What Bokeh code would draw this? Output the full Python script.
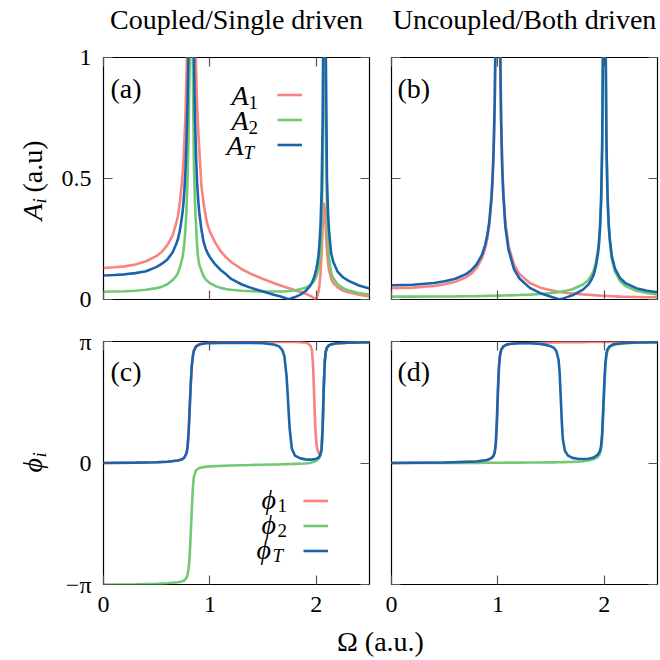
import math
from bokeh.plotting import figure
from bokeh.models import (Range1d, FixedTicker, LinearAxis, Label, Legend, LegendItem,
                          ColumnDataSource)
from bokeh.core.properties import value
from bokeh.layouts import column, row
from bokeh.embed import file_html
from bokeh.resources import INLINE

# ---------------- data ----------------
# Panel (a): coupled / single driven, amplitudes
omega_a = [0.0, 0.1, 0.2, 0.3, 0.4, 0.5, 0.55, 0.6, 0.65, 0.68, 0.7, 0.72, 0.74, 0.75, 0.76,
           0.77, 0.78, 0.79, 0.8, 0.81, 0.82, 0.83, 0.84, 0.85, 0.86, 0.87, 0.88, 0.89, 0.9,
           0.92, 0.94, 0.96, 0.98, 1.0, 1.05, 1.1, 1.15, 1.2, 1.3, 1.4, 1.5, 1.6, 1.65, 1.7,
           1.72, 1.74, 1.76, 1.8, 1.85, 1.9, 1.93, 1.95, 1.97, 1.98, 1.99, 2.0, 2.01, 2.02,
           2.03, 2.04, 2.05, 2.06, 2.07, 2.08, 2.09, 2.1, 2.11, 2.12, 2.14, 2.16, 2.2, 2.25,
           2.3, 2.4, 2.5]
A1_a = [0.130, 0.133, 0.137, 0.145, 0.158, 0.18, 0.198, 0.225, 0.265, 0.31, 0.345, 0.41, 0.50,
        0.56, 0.65, 0.76, 0.92, 1.15, 1.5, 1.9, 2.2, 2.2, 1.9, 1.5, 1.15, 0.95, 0.80, 0.70,
        0.62, 0.47, 0.40, 0.345, 0.305, 0.28, 0.235, 0.20, 0.175, 0.155, 0.125, 0.103, 0.085,
        0.068, 0.06, 0.053, 0.050, 0.047, 0.044, 0.038, 0.031, 0.024, 0.018, 0.014, 0.008,
        0.005, 0.002, 0.004, 0.015, 0.03, 0.06, 0.11, 0.19, 0.31, 0.40, 0.37, 0.28, 0.20,
        0.15, 0.12, 0.085, 0.068, 0.05, 0.037, 0.03, 0.02, 0.013]
A2_a = [0.032, 0.033, 0.034, 0.036, 0.04, 0.047, 0.053, 0.063, 0.08, 0.095, 0.11, 0.135, 0.17,
        0.195, 0.235, 0.29, 0.37, 0.50, 0.70, 1.0, 1.3, 1.3, 0.95, 0.55, 0.40, 0.30, 0.22,
        0.17, 0.145, 0.12, 0.097, 0.083, 0.075, 0.068, 0.056, 0.048, 0.043, 0.04, 0.036,
        0.034, 0.033, 0.033, 0.033, 0.033, 0.034, 0.035, 0.036, 0.038, 0.042, 0.049, 0.056,
        0.062, 0.072, 0.078, 0.086, 0.095, 0.108, 0.125, 0.155, 0.20, 0.30, 0.52, 1.0, 1.2,
        0.75, 0.38, 0.24, 0.17, 0.11, 0.088, 0.063, 0.047, 0.038, 0.027, 0.021]
AT_a = [0.099, 0.101, 0.104, 0.109, 0.117, 0.135, 0.148, 0.165, 0.195, 0.225, 0.25, 0.29, 0.35,
        0.39, 0.45, 0.53, 0.65, 0.82, 1.05, 1.4, 1.7, 1.7, 1.35, 1.0, 0.75, 0.59, 0.48, 0.41,
        0.36, 0.29, 0.24, 0.21, 0.19, 0.175, 0.145, 0.122, 0.105, 0.085, 0.062, 0.046, 0.033,
        0.02, 0.014, 0.007, 0.004, 0.001, 0.004, 0.010, 0.02, 0.035, 0.05, 0.062, 0.08,
        0.093, 0.108, 0.125, 0.15, 0.18, 0.23, 0.31, 0.45, 0.75, 1.4, 1.6, 1.0, 0.5, 0.36,
        0.28, 0.19, 0.155, 0.115, 0.092, 0.078, 0.058, 0.045]

# Panel (b): uncoupled / both driven, amplitudes
omega_b = [0.0, 0.2, 0.4, 0.5, 0.6, 0.7, 0.75, 0.8, 0.85, 0.88, 0.9, 0.92, 0.94, 0.95, 0.96,
           0.97, 0.98, 0.99, 1.0, 1.01, 1.02, 1.03, 1.04, 1.05, 1.07, 1.1, 1.15, 1.2, 1.3, 1.4,
           1.5, 1.55, 1.58, 1.6, 1.65, 1.7, 1.8, 1.85, 1.88, 1.9, 1.92, 1.94, 1.95, 1.96, 1.97,
           1.98, 1.99, 2.0, 2.01, 2.02, 2.03, 2.04, 2.05, 2.07, 2.1, 2.15, 2.2, 2.3, 2.4, 2.5]
A1_b = [0.047, 0.049, 0.056, 0.063, 0.073, 0.092, 0.107, 0.131, 0.17, 0.21, 0.25, 0.31, 0.41,
        0.49, 0.61, 0.80, 1.15, 1.9, 2.4, 1.9, 1.12, 0.76, 0.57, 0.455, 0.32, 0.222, 0.145,
        0.106, 0.068, 0.049, 0.038, 0.034, 0.031, 0.030, 0.027, 0.025, 0.021, 0.0195, 0.0185,
        0.018, 0.0172, 0.0166, 0.0163, 0.016, 0.0158, 0.0155, 0.0153, 0.015, 0.0148, 0.0146,
        0.0144, 0.0142, 0.014, 0.0135, 0.013, 0.012, 0.0115, 0.0105, 0.0095, 0.0088]
A2_b = [0.0118, 0.0119, 0.0122, 0.0125, 0.0129, 0.0134, 0.0137, 0.014, 0.0145, 0.0147, 0.015,
        0.0152, 0.0154, 0.0155, 0.0156, 0.0157, 0.0158, 0.0159, 0.016, 0.0161, 0.0162, 0.0163,
        0.0164, 0.0165, 0.0167, 0.0171, 0.0177, 0.0184, 0.0203, 0.023, 0.0269, 0.0295, 0.0313,
        0.0326, 0.0368, 0.0423, 0.0618, 0.081, 0.101, 0.12, 0.153, 0.205, 0.245, 0.31, 0.42,
        0.64, 1.2, 2.4, 1.2, 0.64, 0.42, 0.31, 0.245, 0.168, 0.115, 0.0755, 0.056, 0.0364,
        0.0267, 0.0209]
AT_b = [0.059, 0.061, 0.068, 0.0755, 0.086, 0.105, 0.121, 0.145, 0.184, 0.225, 0.265, 0.325,
        0.425, 0.505, 0.625, 0.815, 1.17, 1.9, 2.4, 1.9, 1.1, 0.74, 0.55, 0.44, 0.30, 0.205,
        0.127, 0.088, 0.048, 0.026, 0.011, 0.0045, 0.0005, 0.0026, 0.0098, 0.0173, 0.0408,
        0.0615, 0.0825, 0.102, 0.136, 0.188, 0.229, 0.294, 0.404, 0.624, 1.18, 2.4, 1.21,
        0.654, 0.434, 0.324, 0.259, 0.181, 0.128, 0.0875, 0.0675, 0.0469, 0.0362, 0.0297]

# Panel (c): coupled / single driven, phases (in units of pi)
omega_c = [0.0, 0.3, 0.5, 0.6, 0.7, 0.74, 0.76, 0.78, 0.79, 0.8, 0.81, 0.82, 0.83, 0.84, 0.85,
           0.87, 0.9, 0.95, 1.0, 1.2, 1.4, 1.5, 1.6, 1.65, 1.68, 1.7, 1.72, 1.73, 1.74, 1.75,
           1.77, 1.8, 1.85, 1.9, 1.92, 1.94, 1.95, 1.96, 1.97, 1.98, 1.99, 2.0, 2.01, 2.02,
           2.03, 2.04, 2.05, 2.06, 2.07, 2.08, 2.09, 2.1, 2.12, 2.15, 2.2, 2.3, 2.5]
phi1_c = [0.0, 0.003, 0.006, 0.01, 0.02, 0.03, 0.045, 0.08, 0.13, 0.25, 0.45, 0.65, 0.8, 0.88,
          0.925, 0.96, 0.978, 0.988, 0.992, 0.996, 0.997, 0.997, 0.997, 0.997, 0.997, 0.997,
          0.997, 0.997, 0.997, 0.997, 0.996, 0.996, 0.994, 0.99, 0.985, 0.97, 0.955, 0.92,
          0.8, 0.55, 0.3, 0.17, 0.11, 0.085, 0.075, 0.08, 0.12, 0.3, 0.62, 0.84, 0.92, 0.95,
          0.97, 0.98, 0.986, 0.99, 0.994]
phi2_c = [-1.0, -0.998, -0.995, -0.99, -0.982, -0.975, -0.965, -0.945, -0.92, -0.87, -0.77,
          -0.58, -0.38, -0.2, -0.11, -0.06, -0.042, -0.032, -0.028, -0.02, -0.016, -0.014,
          -0.012, -0.011, -0.01, -0.01, -0.009, -0.009, -0.009, -0.008, -0.008, -0.007,
          -0.006, -0.004, -0.002, 0.0, 0.002, 0.005, 0.008, 0.012, 0.016, 0.02, 0.026, 0.033,
          0.045, 0.065, 0.11, 0.29, 0.61, 0.83, 0.915, 0.948, 0.968, 0.978, 0.985, 0.99, 0.993]
phiT_c = [0.0, 0.003, 0.006, 0.01, 0.02, 0.03, 0.045, 0.08, 0.13, 0.25, 0.45, 0.65, 0.8, 0.88,
          0.925, 0.96, 0.975, 0.983, 0.987, 0.99, 0.988, 0.985, 0.975, 0.96, 0.93, 0.88, 0.72,
          0.58, 0.42, 0.28, 0.12, 0.06, 0.038, 0.03, 0.028, 0.028, 0.028, 0.029, 0.03, 0.031,
          0.033, 0.036, 0.04, 0.045, 0.055, 0.075, 0.12, 0.3, 0.62, 0.84, 0.92, 0.95, 0.97,
          0.98, 0.986, 0.99, 0.994]

# Panel (d): uncoupled / both driven, phases (in units of pi)
omega_d = [0.0, 0.5, 0.8, 0.9, 0.94, 0.96, 0.97, 0.98, 0.99, 1.0, 1.01, 1.02, 1.03, 1.05, 1.08,
           1.12, 1.2, 1.3, 1.4, 1.45, 1.5, 1.53, 1.55, 1.57, 1.58, 1.59, 1.6, 1.61, 1.63, 1.66,
           1.7, 1.75, 1.8, 1.85, 1.9, 1.94, 1.96, 1.97, 1.98, 1.99, 2.0, 2.01, 2.02, 2.03, 2.05,
           2.08, 2.12, 2.2, 2.3, 2.5]
phi1_d = [0.0, 0.004, 0.012, 0.025, 0.04, 0.06, 0.09, 0.15, 0.3, 0.55, 0.78, 0.88, 0.925, 0.955,
          0.972, 0.98, 0.985, 0.988, 0.99, 0.991, 0.992, 0.993, 0.993, 0.993, 0.994, 0.994,
          0.994, 0.994, 0.994, 0.995, 0.995, 0.995, 0.995, 0.996, 0.996, 0.996, 0.996, 0.996,
          0.996, 0.996, 0.996, 0.997, 0.997, 0.997, 0.997, 0.997, 0.997, 0.997, 0.998, 0.998]
phi2_d = [0.0, 0.0, 0.001, 0.002, 0.002, 0.002, 0.002, 0.002, 0.002, 0.002, 0.002, 0.002, 0.002,
          0.002, 0.003, 0.003, 0.003, 0.004, 0.004, 0.005, 0.005, 0.005, 0.006, 0.006, 0.006,
          0.006, 0.006, 0.007, 0.007, 0.008, 0.009, 0.011, 0.015, 0.02, 0.03, 0.05, 0.08, 0.12,
          0.2, 0.4, 0.62, 0.8, 0.88, 0.925, 0.955, 0.97, 0.978, 0.985, 0.99, 0.993]
phiT_d = [0.0, 0.004, 0.012, 0.025, 0.04, 0.06, 0.09, 0.16, 0.35, 0.6, 0.8, 0.89, 0.93, 0.96,
          0.975, 0.982, 0.985, 0.985, 0.98, 0.972, 0.96, 0.945, 0.92, 0.85, 0.75, 0.55, 0.35,
          0.2, 0.1, 0.06, 0.042, 0.035, 0.033, 0.035, 0.045, 0.07, 0.1, 0.14, 0.25, 0.45, 0.65,
          0.82, 0.9, 0.935, 0.96, 0.975, 0.982, 0.988, 0.992, 0.995]

x_ticks = [0, 1, 2]
amp_ticks = [0, 0.5, 1]
phase_ticks = [-1, 0, 1]
phase_tick_labels = {-1: "\u2212\u03c0", 0: "0", 1: "\u03c0"}
titles = ["Coupled/Single driven", "Uncoupled/Both driven"]
panel_tags = ["(a)", "(b)", "(c)", "(d)"]

# ---------------- styling ----------------
RED = "#f8837f"
GREEN = "#72c972"
BLUE = "#1b64ad"
FONT = "Liberation Serif"
TICK_COLOR = "#555555"
LW = 2.6
BASE_SHIFT = 0.3  # baseline correction (fraction of font size)


def style_axis(ax, ticks, show_labels, standoff=12, overrides=None):
    ax.ticker = FixedTicker(ticks=ticks)
    ax.major_tick_in = 9
    ax.major_tick_out = 0
    ax.minor_tick_line_color = None
    ax.major_tick_line_color = TICK_COLOR
    ax.major_tick_line_width = 1.2
    ax.axis_line_color = None
    if show_labels:
        ax.major_label_text_font = FONT
        ax.major_label_text_font_size = "24px"
        ax.major_label_text_color = "black"
        ax.major_label_standoff = standoff
        if overrides:
            ax.major_label_overrides = overrides
    else:
        ax.major_label_text_font_size = "1px"
        ax.major_label_text_color = None
        ax.major_label_standoff = 0


def make_fig(w, h, ml, mr, mt, mb, yr, yticks, show_y, show_x, overrides=None):
    p = figure(width=w, height=h, x_range=Range1d(0, 2.5), y_range=Range1d(*yr),
               output_backend="svg", toolbar_location=None, title=None,
               min_border_left=ml, min_border_right=mr, min_border_top=mt, min_border_bottom=mb)
    p.xgrid.visible = False
    p.ygrid.visible = False
    p.outline_line_color = "black"
    p.outline_line_width = 1.2
    p.background_fill_color = "white"
    p.border_fill_color = "white"
    style_axis(p.xaxis[0], x_ticks, show_x, standoff=12)
    style_axis(p.yaxis[0], yticks, show_y, standoff=12, overrides=overrides)
    top = LinearAxis()
    style_axis(top, x_ticks, False)
    p.add_layout(top, "above")
    right = LinearAxis()
    style_axis(right, yticks, False)
    p.add_layout(right, "right")
    return p


def strip(w, h, x0, x1, y0, y1):
    s = figure(width=w, height=h, x_range=Range1d(x0, x1), y_range=Range1d(y0, y1),
               output_backend="svg", toolbar_location=None, title=None, min_border=0,
               x_axis_location=None, y_axis_location=None)
    s.xgrid.visible = False
    s.ygrid.visible = False
    s.outline_line_color = None
    s.background_fill_color = "white"
    s.border_fill_color = "white"
    return s


def txt(p, x, y, text, size, style="normal", align="left", angle=0.0):
    p.add_layout(Label(x=x, y=y, text=text, text_font=FONT, text_font_size=f"{size}px",
                       text_font_style=style, text_align=align, text_baseline="alphabetic",
                       angle=angle, text_color="black"))


def page_txt(p, px, py, text, size, style="normal", align="left", rotated=False):
    # strips use data units equal to page pixels with y negated
    if rotated:
        txt(p, px - BASE_SHIFT * size, -py, text, size, style, align, angle=math.pi / 2)
    else:
        txt(p, px, -(py - BASE_SHIFT * size), text, size, style, align)


def add_label(p, fr, px, py, text, size, style="normal", align="left"):
    # fr: frame (left, top, width, height) in page pixels and its data ranges
    fx, fy, fw, fh, (x0, x1), (y0, y1) = fr
    py = py - BASE_SHIFT * size
    x = x0 + (px - fx) / fw * (x1 - x0)
    y = y0 + (fy + fh - py) / fh * (y1 - y0)
    txt(p, x, y, text, size, style, align)


def add_lines(p, om, ys):
    src = ColumnDataSource(dict(om=om, y1=ys[0], y2=ys[1], yt=ys[2]))
    r1 = p.line("om", "y1", source=src, line_color=RED, line_width=LW)
    r2 = p.line("om", "y2", source=src, line_color=GREEN, line_width=LW)
    r3 = p.line("om", "yt", source=src, line_color=BLUE, line_width=LW)
    return [r1, r2, r3]


def glyph_legend(p, rends, loc):
    items = [LegendItem(label=value(""), renderers=[r]) for r in rends]
    lg = Legend(items=items, location=loc, orientation="vertical", glyph_width=25,
                glyph_height=25, label_height=25, label_width=0, label_standoff=0,
                label_text_font_size="1px", spacing=0, padding=0, margin=0,
                border_line_color=None, background_fill_alpha=0.0)
    p.add_layout(lg)


# page geometry
TOP_H, LEFT_W, BOT_H = 45, 50, 36
FA = (103, 57, 266, 242, (0, 2.5), (0, 1))
FB = (391, 57, 266, 242, (0, 2.5), (0, 1))
FC = (103, 341, 266, 243, (0, 2.5), (-1, 1))
FD = (391, 341, 266, 243, (0, 2.5), (-1, 1))

pa = make_fig(330, 274, 53, 11, 12, 20, (0, 1), amp_ticks, True, False)
pb = make_fig(280, 274, 11, 3, 12, 20, (0, 1), amp_ticks, False, False)
pc = make_fig(330, 305, 53, 11, 22, 40, (-1, 1), phase_ticks, True, True, phase_tick_labels)
pd = make_fig(280, 305, 11, 3, 22, 40, (-1, 1), phase_ticks, False, True)

ra = add_lines(pa, omega_a, [A1_a, A2_a, AT_a])
add_lines(pb, omega_b, [A1_b, A2_b, AT_b])
rc = add_lines(pc, omega_c, [phi1_c, phi2_c, phiT_c])
add_lines(pd, omega_d, [phi1_d, phi2_d, phiT_d])

# legends (line samples)
glyph_legend(pa, ra, (173.7, 142.5))
glyph_legend(pc, rc, (200.3, 21.5))

# legend texts
for i, sub in enumerate(["1", "2", "T"]):
    yb = 103 + 25 * i
    xa = 231 if sub != "T" else 226
    add_label(pa, FA, xa, yb, "A", 28, "italic")
    add_label(pa, FA, xa + 17, yb + 5, sub, 19, "italic" if sub == "T" else "normal")
for i, sub in enumerate(["1", "2", "T"]):
    yb = 507 + 25 * i
    xa = 261 if sub != "T" else 256
    add_label(pc, FC, xa, yb, "\u03d5", 28, "italic")
    add_label(pc, FC, xa + 16, yb + 4, sub, 19, "italic" if sub == "T" else "normal")

# panel tags
add_label(pa, FA, 110, 96, panel_tags[0], 28)
add_label(pb, FB, 397, 96, panel_tags[1], 28)
add_label(pc, FC, 110, 379, panel_tags[2], 28)
add_label(pd, FD, 397, 379, panel_tags[3], 28)

# top strip: column titles
st = strip(660, TOP_H, 0, 660, -TOP_H, 0)
page_txt(st, 236, 27, titles[0], 28, align="center")
page_txt(st, 524, 27, titles[1], 28, align="center")

# left strip: y axis labels (rotated, reading upwards)
sl = strip(LEFT_W, 660 - TOP_H - BOT_H, 0, LEFT_W, -(660 - BOT_H), -TOP_H)
page_txt(sl, 40, 220, "A", 28, "italic", rotated=True)
page_txt(sl, 45, 203, "i", 19, "italic", rotated=True)
page_txt(sl, 40, 192, "(a.u)", 28, rotated=True)
page_txt(sl, 40, 472, "\u03d5", 28, "italic", rotated=True)
page_txt(sl, 45, 457, "i", 19, "italic", rotated=True)

# bottom strip: shared x label
sb = strip(660, BOT_H, 0, 660, -660, -(660 - BOT_H))
page_txt(sb, 380, 649, "\u03a9 (a.u.)", 28, align="center")

grid = column(row(pa, pb), row(pc, pd))
layout = column(st, row(sl, grid), sb)
open("out.html", "w").write(file_html(layout, INLINE))
